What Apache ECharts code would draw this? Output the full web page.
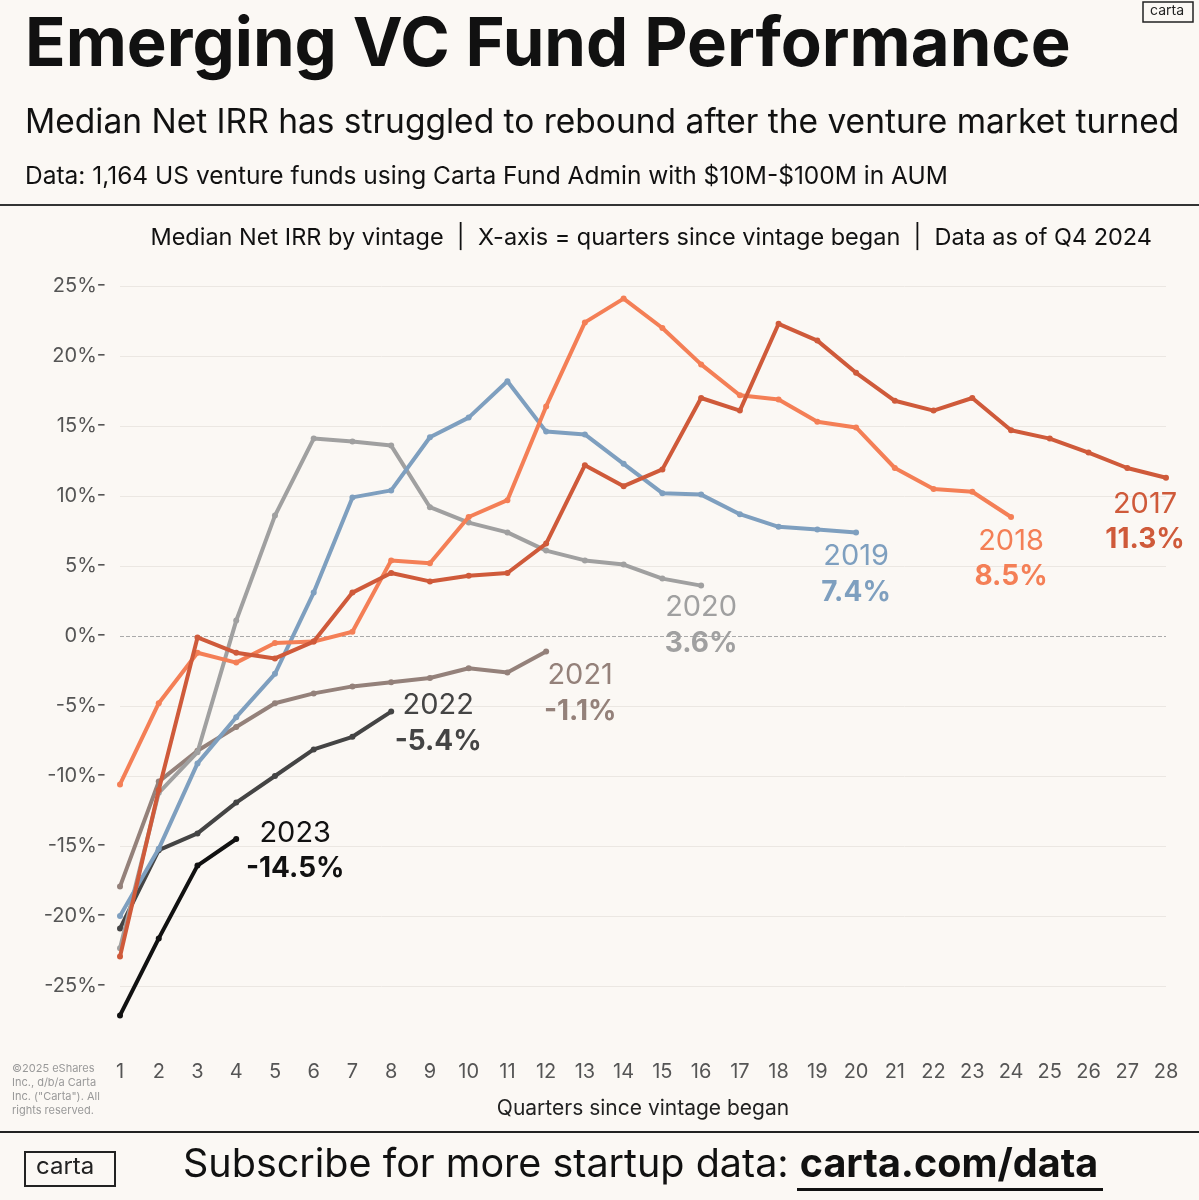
<!DOCTYPE html>
<html><head><meta charset="utf-8">
<script src="https://cdn.jsdelivr.net/npm/echarts@6/dist/echarts.min.js"></script>
<style>html,body{margin:0;padding:0;background:#fbf8f4}#c{width:1199px;height:1200px}</style>
</head><body><div id="c"></div>
<script>
const quarters = Array.from({length:28},(_,i)=>i+1);
const yTicks = [-25,-20,-15,-10,-5,0,5,10,15,20,25];
const v2017 = [-22.9,-11,-0.1,-1.2,-1.6,-0.4,3.1,4.5,3.9,4.3,4.5,6.6,12.2,10.7,11.9,17.0,16.1,22.3,21.1,18.8,16.8,16.1,17.0,14.7,14.1,13.1,12.0,11.3];
const v2018 = [-10.6,-4.8,-1.2,-1.9,-0.5,-0.4,0.3,5.4,5.2,8.5,9.7,16.4,22.4,24.1,22.0,19.4,17.2,16.9,15.3,14.9,12.0,10.5,10.3,8.5];
const v2019 = [-20.0,-15.2,-9.1,-5.8,-2.7,3.1,9.9,10.4,14.2,15.6,18.2,14.6,14.4,12.3,10.2,10.1,8.7,7.8,7.6,7.4];
const v2020 = [-22.3,-11.2,-8.3,1.1,8.6,14.1,13.9,13.6,9.2,8.1,7.4,6.1,5.4,5.1,4.1,3.6];
const v2021 = [-17.9,-10.4,-8.2,-6.5,-4.8,-4.1,-3.6,-3.3,-3.0,-2.3,-2.6,-1.1];
const v2022 = [-20.9,-15.3,-14.1,-11.9,-10.0,-8.1,-7.2,-5.4];
const v2023 = [-27.1,-21.6,-16.4,-14.5];

const vintages = [
 {name:'2017', data:v2017, color:'#cf5a3a', off:[-21,44]},
 {name:'2018', data:v2018, color:'#f47f56', off:[0,42]},
 {name:'2019', data:v2019, color:'#7e9fbf', off:[0,42]},
 {name:'2020', data:v2020, color:'#a0a0a0', off:[0,40]},
 {name:'2021', data:v2021, color:'#94817a', off:[34,42]},
 {name:'2022', data:v2022, color:'#444444', off:[47,12]},
 {name:'2023', data:v2023, color:'#111111', off:[59,12]}
];
const F = 'Inter, "Noto Sans", sans-serif';
const splitColors = ['transparent','#ebe7e2','#ebe7e2','#ebe7e2','#ebe7e2','#ebe7e2','transparent','#ebe7e2','#ebe7e2','#ebe7e2','#ebe7e2','#ebe7e2','transparent'];

const chart = echarts.init(document.getElementById('c'));
chart.setOption({
 backgroundColor:'#fbf8f4',
 animation:false,
 textStyle:{fontFamily:F},
 grid:{left:120,right:33,top:216,bottom:144},
 xAxis:{type:'value',min:1,max:28,interval:1,
   axisLine:{show:false},axisTick:{show:false},splitLine:{show:false},
   axisLabel:{color:'#555',fontSize:20,margin:6,fontFamily:F},
   name:'Quarters since vintage began',nameLocation:'middle',nameGap:42,
   nameTextStyle:{color:'#222',fontSize:21,fontFamily:F}},
 yAxis:{type:'value',min:-30,max:30,interval:5,
   axisLine:{show:false},
   axisTick:{show:false},
   axisLabel:{color:'#555',fontSize:20,margin:14,fontFamily:F,
     formatter:v=> (yTicks.includes(v)? v+'%-':'')},
   splitLine:{show:true,lineStyle:{color:splitColors,width:1}}},
 series: vintages.map((s,i)=>({
   type:'line',name:s.name,
   data:s.data.map((v,j)=>[quarters[j],v]),
   color:s.color,
   lineStyle:{width:4,color:s.color},
   symbol:'circle',symbolSize:6,
   itemStyle:{color:s.color},
   z:10-i,
   endLabel:{show:true,distance:0,offset:s.off,align:'center',verticalAlign:'middle',
     formatter:p=>'{a|'+s.name+'}\n{b|'+p.value[1].toFixed(1)+'%}',
     rich:{a:{fontSize:29,color:s.color,fontFamily:F,lineHeight:36,align:'center'},
           b:{fontSize:28,fontWeight:'bold',color:s.color,fontFamily:F,lineHeight:36,align:'center'}}},
   markLine: i===0?{silent:true,symbol:'none',label:{show:false},
     lineStyle:{color:'#aaa',type:'dashed',width:1},data:[{yAxis:0}]}:undefined
 })),
 graphic:[
  {type:'text',left:25,top:12,style:{text:'Emerging VC Fund Performance',font:'bold 67px '+F,fill:'#111'}},
  {type:'text',left:25,top:106,style:{text:'Median Net IRR has struggled to rebound after the venture market turned',font:'33.5px '+F,fill:'#111'}},
  {type:'text',left:25,top:164,style:{text:'Data: 1,164 US venture funds using Carta Fund Admin with $10M-$100M in AUM',font:'24.5px '+F,fill:'#111'}},
  {type:'rect',shape:{x:0,y:204,width:1199,height:2},style:{fill:'#333'}},
  {type:'text',right:47,top:226,style:{text:'Median Net IRR by vintage  |  X-axis = quarters since vintage began  |  Data as of Q4 2024',font:'23.5px '+F,fill:'#111'}},
  {type:'rect',shape:{x:1143,y:2,width:50,height:20},style:{fill:'none',stroke:'#222',lineWidth:1.5}},
  {type:'text',left:1150,top:4,style:{text:'carta',font:'14px '+F,fill:'#222'}},
  {type:'text',left:12,top:1062,style:{text:'©2025 eShares\nInc., d/b/a Carta\nInc. ("Carta"). All\nrights reserved.',font:'11px '+F,fill:'#999',lineHeight:14}},
  {type:'rect',shape:{x:0,y:1131,width:1199,height:2},style:{fill:'#222'}},
  {type:'rect',shape:{x:25,y:1152,width:90,height:34},style:{fill:'none',stroke:'#222',lineWidth:2}},
  {type:'text',left:36,top:1155,style:{text:'carta',font:'24px '+F,fill:'#222'}},
  {type:'text',left:183,top:1145,style:{text:'{n|Subscribe for more startup data: }{b|carta.com/data}',
     rich:{n:{fontSize:39.5,fontFamily:F,fill:'#111'},b:{fontSize:39.5,fontWeight:'bold',fontFamily:F,fill:'#111'}}}},
  {type:'rect',shape:{x:797,y:1188,width:306,height:3},style:{fill:'#111'}}
 ]
});
</script></body></html>
